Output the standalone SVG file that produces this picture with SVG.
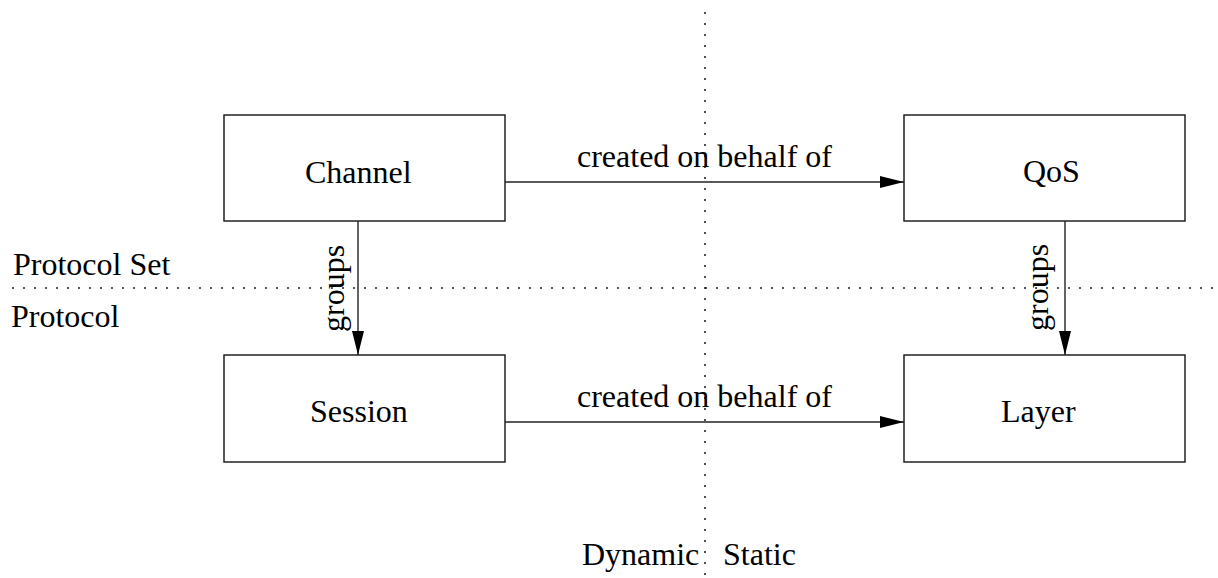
<svg xmlns="http://www.w3.org/2000/svg" width="1218" height="578" viewBox="0 0 1218 578">
<style>
  .box{fill:#fff;stroke:#222;stroke-width:1.5}
  .t{font-family:"Liberation Serif","Times New Roman",serif;font-size:32px;fill:#000}
  .ln{stroke:#222;stroke-width:1.4;fill:none}
  .dot{stroke:#222;stroke-width:1.6;fill:none;stroke-dasharray:2 9}
</style>
<defs>
  <marker id="ah" markerUnits="userSpaceOnUse" markerWidth="24" markerHeight="12" refX="24" refY="6" orient="auto">
    <path d="M0,0 L24,6 L0,12 Z" fill="#000"/>
  </marker>
</defs>
<rect width="1218" height="578" fill="#fff"/>
<g id="dividers">
  <line class="dot" x1="12" y1="288" x2="1218" y2="288"/>
  <line class="dot" x1="705" y1="12" x2="705" y2="578"/>
</g>
<g id="connectors">
  <line class="ln" x1="505" y1="182" x2="904" y2="182" marker-end="url(#ah)"/>
  <line class="ln" x1="505" y1="422" x2="904" y2="422" marker-end="url(#ah)"/>
  <line class="ln" x1="358" y1="221" x2="358" y2="355" marker-end="url(#ah)"/>
  <line class="ln" x1="1065" y1="221" x2="1065" y2="355" marker-end="url(#ah)"/>
  <text class="t" x="577" y="167">created on behalf of</text>
  <text class="t" x="577" y="407">created on behalf of</text>
  <text class="t" transform="translate(344,332) rotate(-90)">groups</text>
  <text class="t" transform="translate(1048,331) rotate(-90)">groups</text>
</g>
<g id="channel">
  <rect class="box" x="224" y="115" width="281" height="106"/>
  <text class="t" x="305" y="183">Channel</text>
</g>
<g id="qos">
  <rect class="box" x="904" y="115" width="281" height="106"/>
  <text class="t" x="1023" y="182">QoS</text>
</g>
<g id="session">
  <rect class="box" x="224" y="355" width="281" height="107"/>
  <text class="t" x="310" y="422">Session</text>
</g>
<g id="layer">
  <rect class="box" x="904" y="355" width="281" height="107"/>
  <text class="t" x="1001" y="422">Layer</text>
</g>
<g id="labels">
  <text class="t" x="13" y="275">Protocol Set</text>
  <text class="t" x="11" y="327">Protocol</text>
  <text class="t" x="582" y="565">Dynamic</text>
  <text class="t" x="723" y="565">Static</text>
</g>
</svg>
